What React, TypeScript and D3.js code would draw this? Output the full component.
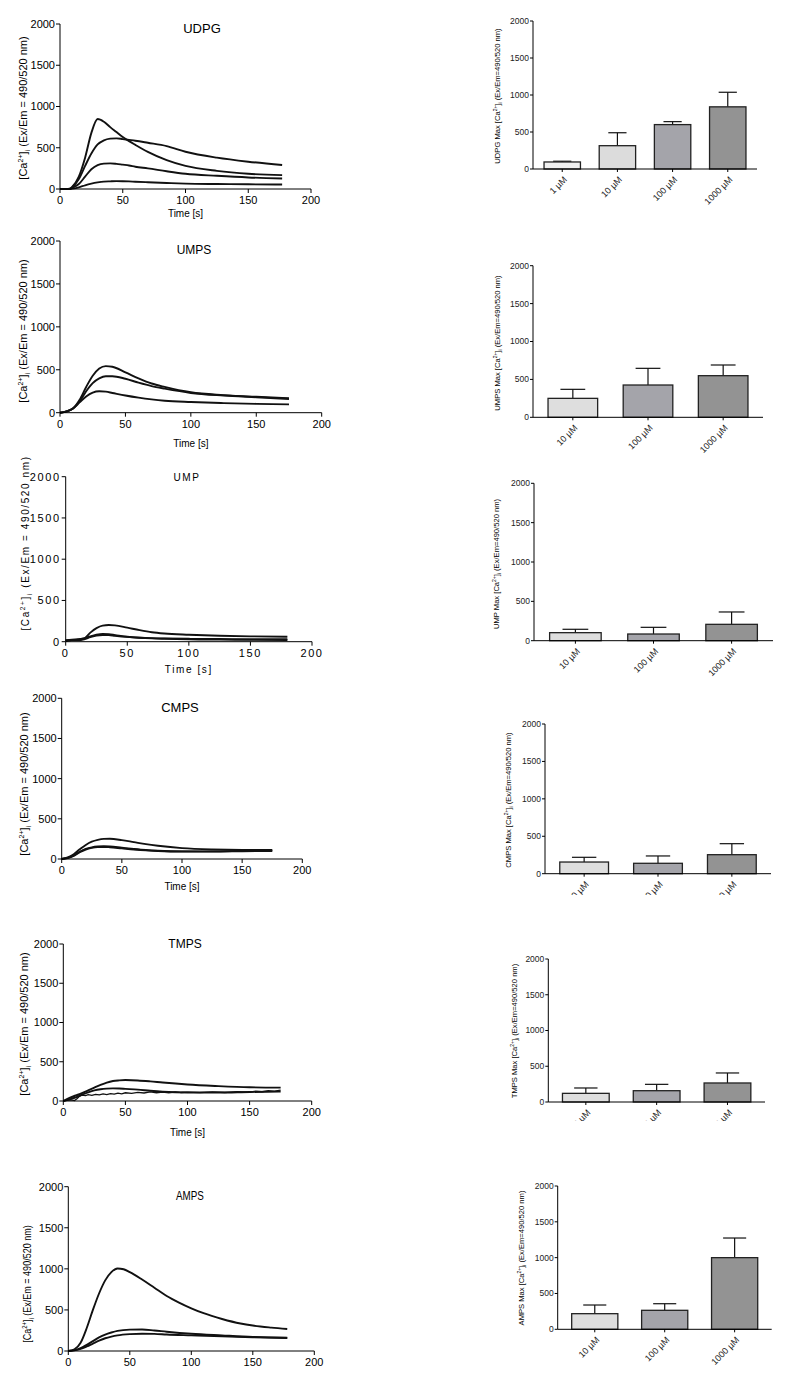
import React from "react";
import * as d3 from "d3";

const yTicks = [0, 500, 1000, 1500, 2000];
const timeTicks = [0, 50, 100, 150, 200];

// ---- time courses (s, fluorescence units) ----
const udpgT = [0, 5, 8, 10, 15, 20, 25, 30, 35, 40, 45, 50, 55, 60, 70, 85, 100, 125, 150, 177];
const udpg1000 = [0, 0, 5, 30, 150, 380, 680, 848, 815, 750, 690, 630, 580, 535, 450, 350, 280, 220, 185, 168];
const udpg100 = [0, 0, 3, 25, 120, 280, 430, 540, 590, 610, 614, 605, 595, 585, 560, 520, 452, 380, 331, 291];
const udpg10 = [0, 0, 2, 15, 60, 150, 240, 290, 308, 311, 305, 295, 285, 270, 250, 215, 185, 160, 140, 128];
const udpg1 = [0, 0, 1, 5, 20, 45, 65, 80, 90, 93, 95, 94, 92, 88, 82, 73, 65, 60, 57, 55];

const umpsT = [0, 5, 10, 15, 20, 25, 30, 35, 40, 50, 60, 70, 80, 100, 125, 150, 175];
const umps1000 = [0, 15, 50, 150, 300, 430, 515, 543, 535, 470, 400, 340, 300, 238, 205, 185, 170];
const umps100 = [0, 15, 50, 130, 250, 345, 400, 425, 425, 395, 350, 310, 280, 230, 200, 180, 160];
const umps10 = [0, 15, 50, 120, 190, 235, 250, 245, 230, 200, 175, 155, 140, 125, 112, 103, 97];

const umpT = [0, 5, 10, 15, 20, 25, 30, 35, 40, 50, 60, 70, 80, 100, 125, 150, 180];
const ump1000 = [15, 20, 25, 40, 110, 165, 195, 202, 198, 170, 140, 115, 100, 85, 72, 65, 60];
const ump100 = [15, 25, 30, 40, 65, 85, 95, 90, 80, 60, 48, 40, 35, 28, 25, 22, 20];
const ump10 = [10, 20, 20, 30, 55, 75, 82, 80, 72, 58, 48, 43, 40, 35, 32, 30, 30];

const cmpsT = [0, 5, 10, 15, 20, 25, 30, 35, 40, 50, 60, 70, 80, 100, 125, 150, 175];
const cmps1000 = [0, 20, 60, 120, 175, 215, 238, 250, 252, 235, 210, 185, 165, 135, 118, 112, 112];
const cmps100 = [0, 15, 45, 90, 125, 145, 155, 158, 155, 140, 125, 112, 103, 95, 95, 100, 105];
const cmps10 = [0, 12, 40, 85, 118, 138, 148, 150, 146, 132, 118, 107, 100, 93, 92, 96, 100];

const tmpsT = [0, 5, 10, 15, 20, 25, 30, 35, 40, 45, 50, 60, 70, 80, 100, 125, 150, 175];
const tmps1000 = [0, 40, 70, 100, 135, 170, 205, 235, 255, 263, 267, 262, 250, 235, 210, 190, 175, 170];
const tmps100 = [0, 20, 45, 80, 110, 135, 150, 158, 161, 160, 155, 145, 130, 118, 108, 108, 115, 119];
const tmps10T = [0, 3, 6, 9, 11, 13, 15, 18, 20, 23, 26, 29, 32, 35, 38, 41, 44, 47, 50, 55, 60, 65, 70, 75, 80, 85, 90, 95, 100, 110, 120, 130, 140, 150, 155, 160, 165, 170, 175];
const tmps10 = [0, 10, 15, 5, 30, 60, 75, 70, 80, 72, 85, 78, 90, 82, 95, 88, 100, 92, 105, 98, 110, 102, 115, 105, 112, 104, 116, 108, 112, 106, 115, 108, 120, 112, 125, 118, 132, 125, 138];

const ampsT = [0, 5, 10, 15, 20, 25, 30, 35, 40, 45, 50, 60, 70, 80, 90, 100, 110, 125, 140, 150, 165, 178];
const amps1000 = [0, 20, 100, 280, 500, 700, 860, 960, 1005, 995, 960, 870, 770, 670, 590, 520, 460, 390, 335, 310, 285, 268];
const ampsLowT = [0, 5, 10, 15, 20, 25, 30, 35, 40, 50, 60, 70, 80, 100, 125, 150, 178];
const amps100 = [0, 10, 35, 75, 120, 165, 200, 225, 245, 260, 262, 250, 235, 210, 190, 172, 162];
const amps10 = [0, 8, 25, 55, 90, 125, 155, 175, 190, 205, 210, 208, 200, 190, 178, 168, 158];

// ---- peak summaries (mean, SEM) ----
const doses4 = ["1 µM", "10 µM", "100 µM", "1000 µM"];
const doses3 = ["10 µM", "100 µM", "1000 µM"];
const udpgMax = [95, 315, 600, 840];
const udpgErr = [10, 175, 40, 197];
const umpsMax = [250, 426, 549];
const umpsErr = [119, 220, 141];
const umpMax = [102, 85, 208];
const umpErr = [43, 85, 157];
const cmpsMax = [156, 139, 254];
const cmpsErr = [63, 98, 147];
const tmpsMax = [121, 158, 266];
const tmpsErr = [75, 89, 140];
const ampsMax = [218, 265, 1000];
const ampsErr = [121, 92, 274];

const FONT = "'Liberation Sans', Arial, Helvetica, sans-serif";

function CaLabel({ x, y, fs, pre, post, family, spacing, squeeze }: any) {
  return (
    <text
      transform={`translate(${x},${y}) rotate(-90) scale(${squeeze || 1},1)`}
      textAnchor="middle"
      fontSize={fs}
      fontFamily={family || FONT}
      letterSpacing={spacing || 0}
    >
      <tspan>{pre}[Ca</tspan>
      <tspan dy={-fs * 0.4} fontSize={fs * 0.65}>2+</tspan>
      <tspan dy={fs * 0.4}>]</tspan>
      <tspan dy={fs * 0.25} fontSize={fs * 0.65}>i</tspan>
      <tspan dy={-fs * 0.25}>{post}</tspan>
    </text>
  );
}

function LinePanel({ p, curves }: any) {
  const x = d3.scaleLinear().domain([0, 200]).range([p.left, p.right]);
  const y = d3.scaleLinear().domain([0, 2000]).range([p.bottom, p.top]);
  return (
    <g fontFamily={FONT}>
      {curves.map((c: any, i: number) => {
        const pts = c.t.map((t: number, j: number) => [t, c.v[j]]);
        const line = d3
          .line<number[]>()
          .x((d) => x(d[0]))
          .y((d) => y(d[1]))
          .curve(c.noisy ? d3.curveLinear : d3.curveMonotoneX);
        return (
          <path key={i} d={line(pts) || ""} fill="none" stroke="#111" strokeWidth={c.noisy ? 1.3 : 1.9} />
        );
      })}
      <line x1={p.left} x2={p.left} y1={p.top} y2={p.bottom} stroke="#000" />
      <line x1={p.left} x2={p.right} y1={p.bottom} y2={p.bottom} stroke="#000" />
      {yTicks.map((t) => (
        <g key={"y" + t}>
          <line x1={p.left - 4} x2={p.left} y1={y(t)} y2={y(t)} stroke="#000" />
          <text x={p.left - 5} y={y(t)} dy="0.35em" textAnchor="end" fontSize={11} letterSpacing={p.spacing || 0}>
            {t}
          </text>
        </g>
      ))}
      {timeTicks.map((t) => (
        <g key={"x" + t}>
          <line x1={x(t)} x2={x(t)} y1={p.bottom} y2={p.bottom + 4} stroke="#000" />
          <text x={x(t)} y={p.bottom + 15} textAnchor="middle" fontSize={11} letterSpacing={p.spacing || 0}>
            {t}
          </text>
        </g>
      ))}
      <text transform={`translate(${p.tx},${p.ty}) scale(${p.squeeze || 1},1)`} textAnchor="middle"
        fontSize={p.tfs} letterSpacing={p.spacing || 0}>
        {p.title}
      </text>
      {p.timeY && (
        <text x={(p.left + p.right) / 2} y={p.timeY} textAnchor="middle" fontSize={10} letterSpacing={p.spacing || 0}>
          Time [s]
        </text>
      )}
      <CaLabel x={p.lx} y={p.ly} fs={p.lfs || 11} pre="" post=" (Ex/Em = 490/520 nm)"
        spacing={p.spacing} squeeze={p.squeeze} />
    </g>
  );
}

const barFills4 = ["#f0f0f0", "#dcdcdc", "#a4a4aa", "#939393"];
const barFills3 = ["#dedede", "#a4a4aa", "#939393"];

function BarPanel({ p, cats, means, errs, id }: any) {
  const x = d3.scaleBand<string>().domain(cats).range([p.left, p.right]).paddingInner(0.34).paddingOuter(0.2);
  const y = d3.scaleLinear().domain([0, 2000]).range([p.bottom, p.top]);
  const fills = cats.length === 4 ? barFills4 : barFills3;
  const bw = x.bandwidth();
  return (
    <g fontFamily={FONT}>
      {p.clipY && (
        <clipPath id={id}>
          <rect x={p.left - 40} y={p.bottom} width={p.right - p.left + 80} height={p.clipY - p.bottom} />
        </clipPath>
      )}
      {cats.map((c: string, i: number) => {
        const x0 = x(c) as number;
        const cx = x0 + bw / 2;
        return (
          <g key={c}>
            <line x1={cx} x2={cx} y1={y(means[i])} y2={y(means[i] + errs[i])} stroke="#111" strokeWidth={1.2} />
            <line x1={cx - bw / 4} x2={cx + bw / 4} y1={y(means[i] + errs[i])} y2={y(means[i] + errs[i])}
              stroke="#111" strokeWidth={1.2} />
            <rect x={x0} y={y(means[i])} width={bw} height={p.bottom - y(means[i])} fill={fills[i]}
              stroke="#222" strokeWidth={1.3} />
            <line x1={cx} x2={cx} y1={p.bottom} y2={p.bottom + 3} stroke="#000" />
          </g>
        );
      })}
      <line x1={p.left} x2={p.left} y1={p.top} y2={p.bottom} stroke="#000" />
      <line x1={p.left} x2={p.right} y1={p.bottom} y2={p.bottom} stroke="#000" />
      {yTicks.map((t) => (
        <g key={t}>
          <line x1={p.left - 3} x2={p.left} y1={y(t)} y2={y(t)} stroke="#000" />
          <text x={p.left - 4} y={y(t)} dy="0.35em" textAnchor="end" fontSize={8.5} fill="#222">
            {t}
          </text>
        </g>
      ))}
      <g clipPath={p.clipY ? `url(#${id})` : undefined}>
        {cats.map((c: string) => {
          const cx = (x(c) as number) + bw / 2;
          return (
            <text key={c} transform={`translate(${cx + 3},${p.bottom + 9}) rotate(-45)`} textAnchor="end"
              fontSize={9} fill="#222" dy="0.35em">
              {c}
            </text>
          );
        })}
      </g>
      <CaLabel x={p.lx} y={p.ly} fs={7.6} pre={p.name + " Max "} post=" (Ex/Em=490/520 nm)" />
    </g>
  );
}

export default function App() {
  return (
    <svg width={786} height={1383} style={{ position: "absolute", left: 0, top: 0, background: "#fff" }}>
      <rect width={786} height={1383} fill="#fff" />
      <LinePanel
        p={{ left: 60, right: 311, top: 24, bottom: 189, title: "UDPG", tx: 202, ty: 33, tfs: 13, timeY: 217, lx: 27, ly: 108 }}
        curves={[
          { t: udpgT, v: udpg1000 },
          { t: udpgT, v: udpg100 },
          { t: udpgT, v: udpg10 },
          { t: udpgT, v: udpg1 },
        ]}
      />
      <LinePanel
        p={{ left: 60, right: 321.7, top: 241, bottom: 412.7, title: "UMPS", tx: 194, ty: 254, tfs: 12, timeY: 447, lx: 27, ly: 331 }}
        curves={[
          { t: umpsT, v: umps1000 },
          { t: umpsT, v: umps100 },
          { t: umpsT, v: umps10 },
        ]}
      />
      <LinePanel
        p={{ left: 65.7, right: 312, top: 476.7, bottom: 641.7, title: "UMP", tx: 187, ty: 481, tfs: 10, timeY: 673, lx: 29, ly: 543, spacing: 1.6, lfs: 10 }}
        curves={[
          { t: umpT, v: ump1000 },
          { t: umpT, v: ump100 },
          { t: umpT, v: ump10 },
        ]}
      />
      <LinePanel
        p={{ left: 61.7, right: 302.3, top: 698.3, bottom: 859, title: "CMPS", tx: 180, ty: 712, tfs: 13, timeY: 890, lx: 28, ly: 784 }}
        curves={[
          { t: cmpsT, v: cmps1000 },
          { t: cmpsT, v: cmps100 },
          { t: cmpsT, v: cmps10 },
        ]}
      />
      <LinePanel
        p={{ left: 63.3, right: 311.7, top: 944, bottom: 1101, title: "TMPS", tx: 185, ty: 948, tfs: 12, timeY: 1136, lx: 28, ly: 1024 }}
        curves={[
          { t: tmpsT, v: tmps1000 },
          { t: tmpsT, v: tmps100 },
          { t: tmps10T, v: tmps10, noisy: true },
        ]}
      />
      <LinePanel
        p={{ left: 68.3, right: 314.3, top: 1186.7, bottom: 1351, title: "AMPS", tx: 190, ty: 1200, tfs: 12, lx: 31, ly: 1284, squeeze: 0.82 }}
        curves={[
          { t: ampsT, v: amps1000 },
          { t: ampsLowT, v: amps100 },
          { t: ampsLowT, v: amps10 },
        ]}
      />

      <BarPanel id="b1" p={{ left: 533, right: 757, top: 21, bottom: 169, lx: 500, ly: 96, name: "UDPG" }}
        cats={doses4} means={udpgMax} errs={udpgErr} />
      <BarPanel id="b2" p={{ left: 533, right: 763, top: 265.7, bottom: 417.3, lx: 500, ly: 343, name: "UMPS" }}
        cats={doses3} means={umpsMax} errs={umpsErr} />
      <BarPanel id="b3" p={{ left: 534, right: 773, top: 483.3, bottom: 640.7, lx: 499, ly: 564, name: "UMP" }}
        cats={doses3} means={umpMax} errs={umpErr} />
      <BarPanel id="b4" p={{ left: 545, right: 771, top: 724, bottom: 873.7, lx: 511, ly: 800, name: "CMPS", clipY: 895 }}
        cats={doses3} means={cmpsMax} errs={cmpsErr} />
      <BarPanel id="b5" p={{ left: 548.3, right: 765, top: 959, bottom: 1102, lx: 517, ly: 1031, name: "TMPS", clipY: 1121 }}
        cats={doses3} means={tmpsMax} errs={tmpsErr} />
      <BarPanel id="b6" p={{ left: 557.7, right: 771.7, top: 1186, bottom: 1329.3, lx: 524, ly: 1258, name: "AMPS" }}
        cats={doses3} means={ampsMax} errs={ampsErr} />
    </svg>
  );
}
